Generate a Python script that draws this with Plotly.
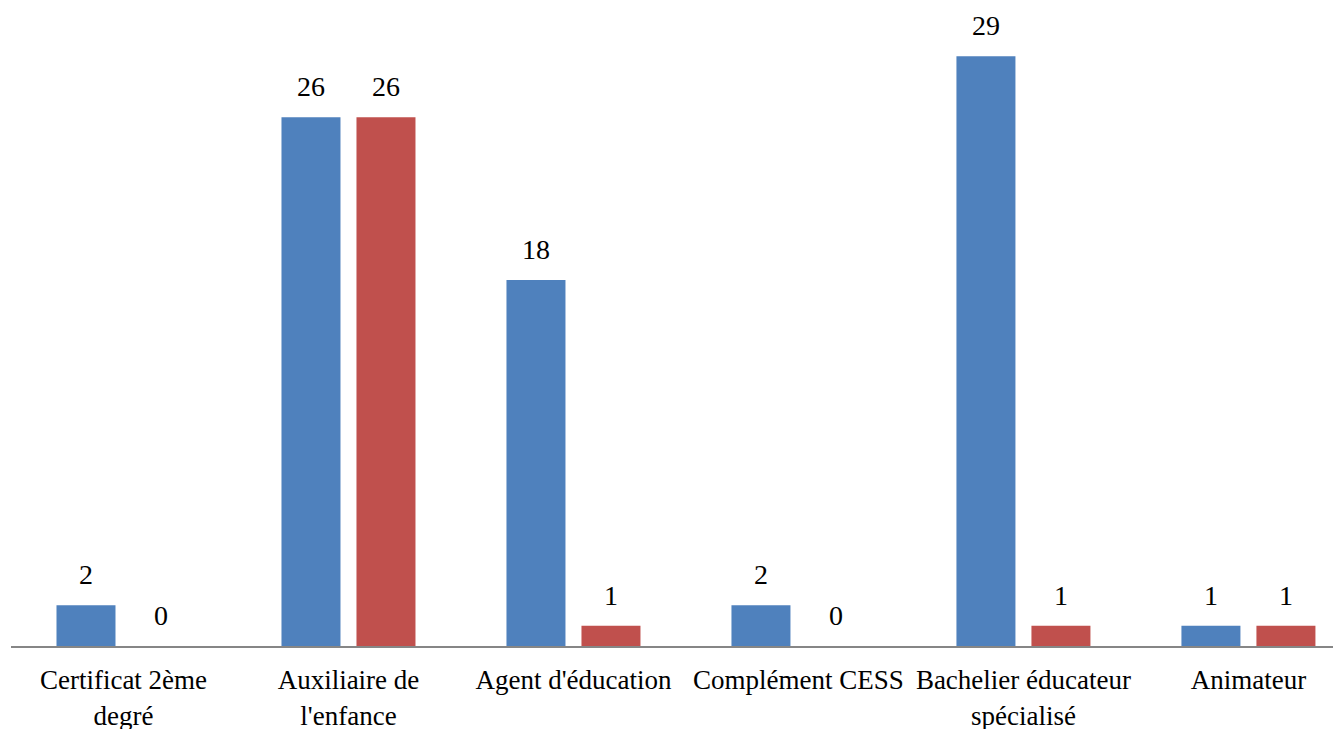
import plotly.graph_objects as go

categories = ["Certificat 2ème<br>degré", "Auxiliaire de<br>l'enfance", "Agent d'éducation",
              "Complément CESS", "Bachelier éducateur<br>spécialisé", "Animateur"]
series_a = [2, 26, 18, 2, 29, 1]
series_b = [0, 26, 1, 0, 1, 1]
colors = ["#4F81BD", "#C0504D"]

FONT = "Liberation Serif, Times New Roman, serif"

fig = go.Figure()
for vals, col in zip([series_a, series_b], colors):
    fig.add_trace(go.Bar(x=list(range(len(categories))), y=vals, marker=dict(color=col, line=dict(width=0))))

annotations = []
for vals, shift in zip([series_a, series_b], [-37.5, 37.5]):
    for i, v in enumerate(vals):
        annotations.append(dict(x=i, y=v, xref="x", yref="y", text=str(v), showarrow=False,
                                xshift=shift, yshift=13, yanchor="bottom",
                                font=dict(family=FONT, size=28, color="#000")))

fig.update_layout(
    width=1341, height=729,
    margin=dict(l=3, r=0, t=28, b=91),
    paper_bgcolor="white", plot_bgcolor="white",
    showlegend=False,
    bargap=0.3333, bargroupgap=0.2133,
    annotations=annotations,
    xaxis=dict(range=[-0.5, 5.447], tickmode="array", tickvals=list(range(len(categories))),
               ticktext=categories, showline=True, linecolor="#868686", linewidth=2,
               ticks="outside", ticklen=9, tickcolor="rgba(0,0,0,0)",
               tickfont=dict(family=FONT, size=27, color="#000"), showgrid=False, zeroline=False,
               automargin=False),
    yaxis=dict(range=[0, 30], showticklabels=False, showgrid=False, zeroline=False, showline=False),
)
fig.write_html("out.html")
